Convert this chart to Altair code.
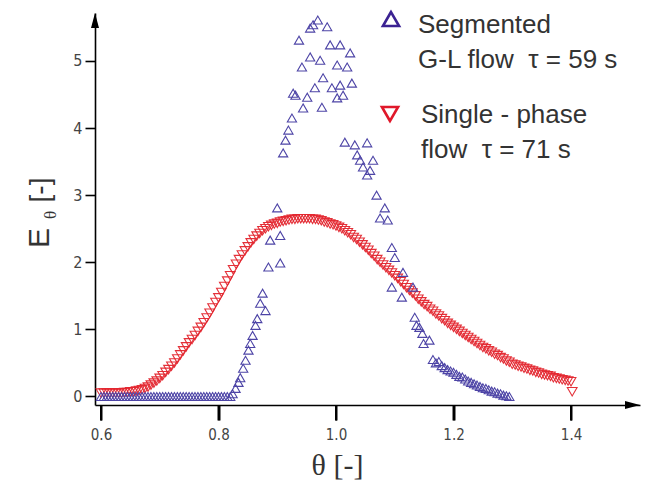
import altair as alt
import pandas as pd

# ---------------- data ----------------
# Single-phase flow (red, triangle-down)
red_theta = [0.600, 0.605, 0.610, 0.615, 0.620, 0.625, 0.630, 0.635, 0.640, 0.645,
             0.650, 0.655, 0.660, 0.665, 0.670, 0.675, 0.680, 0.685, 0.690, 0.695,
             0.700, 0.705, 0.710, 0.715, 0.720, 0.725, 0.730, 0.735, 0.740, 0.745,
             0.750, 0.755, 0.760, 0.765, 0.770, 0.775, 0.780, 0.785, 0.790, 0.795,
             0.800, 0.805, 0.810, 0.815, 0.820, 0.825, 0.830, 0.835, 0.840, 0.845,
             0.850, 0.855, 0.860, 0.865, 0.870, 0.875, 0.880, 0.885, 0.890, 0.895,
             0.900, 0.905, 0.910, 0.915, 0.920, 0.925, 0.930, 0.935, 0.940, 0.945,
             0.950, 0.955, 0.960, 0.965, 0.970, 0.975, 0.980, 0.985, 0.990, 0.995,
             1.000, 1.005, 1.010, 1.015, 1.020, 1.025, 1.030, 1.035, 1.040, 1.045,
             1.050, 1.055, 1.060, 1.065, 1.070, 1.075, 1.080, 1.085, 1.090, 1.095,
             1.100, 1.105, 1.110, 1.115, 1.120, 1.125, 1.130, 1.135, 1.140, 1.145,
             1.150, 1.155, 1.160, 1.165, 1.170, 1.175, 1.180, 1.185, 1.190, 1.195,
             1.200, 1.205, 1.210, 1.215, 1.220, 1.225, 1.230, 1.235, 1.240, 1.245,
             1.250, 1.255, 1.260, 1.265, 1.270, 1.275, 1.280, 1.285, 1.290, 1.295,
             1.300, 1.305, 1.310, 1.315, 1.320, 1.325, 1.330, 1.335, 1.340, 1.345,
             1.350, 1.355, 1.360, 1.365, 1.370, 1.375, 1.380, 1.385, 1.390, 1.395,
             1.400, 1.402]
red_E = [0.05, 0.05, 0.05, 0.05, 0.05, 0.05, 0.05, 0.05, 0.06, 0.06,
         0.07, 0.07, 0.08, 0.09, 0.10, 0.12, 0.14, 0.17, 0.20, 0.23,
         0.27, 0.31, 0.36, 0.40, 0.45, 0.50, 0.56, 0.62, 0.68, 0.74,
         0.80, 0.85, 0.91, 0.97, 1.03, 1.10, 1.17, 1.24, 1.32, 1.40,
         1.47, 1.55, 1.64, 1.72, 1.80, 1.89, 1.97, 2.04, 2.11, 2.17,
         2.23, 2.29, 2.34, 2.39, 2.43, 2.47, 2.50, 2.53, 2.55, 2.57,
         2.58, 2.60, 2.61, 2.62, 2.63, 2.64, 2.64, 2.65, 2.65, 2.65,
         2.65, 2.65, 2.64, 2.64, 2.63, 2.62, 2.60, 2.59, 2.57, 2.56,
         2.54, 2.52, 2.50, 2.47, 2.44, 2.41, 2.37, 2.34, 2.30, 2.26,
         2.22, 2.18, 2.13, 2.09, 2.04, 2.00, 1.96, 1.92, 1.88, 1.84,
         1.80, 1.76, 1.71, 1.67, 1.62, 1.58, 1.54, 1.50, 1.45, 1.41,
         1.37, 1.34, 1.30, 1.27, 1.23, 1.20, 1.16, 1.13, 1.09, 1.06,
         1.03, 1.00, 0.97, 0.94, 0.91, 0.88, 0.85, 0.82, 0.79, 0.76,
         0.73, 0.71, 0.68, 0.66, 0.63, 0.61, 0.58, 0.56, 0.53, 0.51,
         0.48, 0.47, 0.45, 0.44, 0.42, 0.41, 0.39, 0.38, 0.36, 0.35,
         0.33, 0.32, 0.31, 0.30, 0.28, 0.27, 0.26, 0.25, 0.24, 0.23,
         0.22, 0.07]

# Segmented gas-liquid flow (blue, triangle-up)
blue_theta = [0.600, 0.605, 0.610, 0.615, 0.620, 0.625, 0.630, 0.635, 0.640, 0.645,
              0.650, 0.655, 0.660, 0.665, 0.670, 0.675, 0.680, 0.685, 0.690, 0.695,
              0.700, 0.705, 0.710, 0.715, 0.720, 0.725, 0.730, 0.735, 0.740, 0.745,
              0.750, 0.755, 0.760, 0.765, 0.770, 0.775, 0.780, 0.785, 0.790, 0.795,
              0.800, 0.805, 0.810, 0.815, 0.820,
              0.824, 0.829, 0.834, 0.837, 0.842, 0.846, 0.851, 0.854, 0.858, 0.863,
              0.866, 0.871, 0.875, 0.880, 0.885, 0.905, 0.888, 0.905, 0.900,
              0.910, 0.914, 0.919, 0.925, 0.927, 0.931, 0.937, 0.942, 0.944, 0.951,
              0.956, 0.956, 0.961, 0.969, 0.973, 0.964, 0.976, 0.978, 0.985, 0.990,
              0.993, 1.002, 1.002, 1.007, 1.007, 1.012, 1.019, 1.024, 1.027,
              1.015, 1.032, 1.053, 1.036, 1.041, 1.063, 1.046, 1.058, 1.053, 1.069,
              1.083, 1.075, 1.088, 1.095, 1.100, 1.114, 1.095, 1.112, 1.131, 1.134,
              1.137, 1.147, 1.159, 1.142, 1.149,
              1.165, 1.170, 1.175, 1.180, 1.185, 1.190, 1.195, 1.200, 1.205, 1.210,
              1.215, 1.220, 1.225, 1.230, 1.235, 1.240, 1.245, 1.250, 1.255, 1.260,
              1.265, 1.270, 1.275, 1.280, 1.285, 1.290, 1.295]
blue_E = [0.00, 0.00, 0.00, 0.00, 0.00, 0.00, 0.00, 0.00, 0.00, 0.00,
          0.00, 0.00, 0.00, 0.00, 0.00, 0.00, 0.00, 0.00, 0.00, 0.00,
          0.00, 0.00, 0.00, 0.00, 0.00, 0.00, 0.00, 0.00, 0.00, 0.00,
          0.00, 0.00, 0.00, 0.00, 0.00, 0.00, 0.00, 0.00, 0.00, 0.00,
          0.00, 0.00, 0.00, 0.00, 0.00,
          0.04, 0.12, 0.21, 0.28, 0.42, 0.54, 0.69, 0.79, 0.91, 1.06,
          1.16, 1.39, 1.54, 1.28, 1.93, 1.99, 2.33, 2.40, 2.81,
          3.63, 3.82, 3.97, 4.15, 4.52, 4.49, 5.31, 4.91, 4.30, 4.46,
          5.06, 5.49, 5.54, 5.61, 5.01, 4.60, 4.31, 4.75, 5.51, 5.24,
          4.60, 4.94, 4.45, 5.24, 4.64, 4.49, 4.91, 5.12, 4.67,
          3.79, 3.75, 3.78, 3.60, 3.52, 3.52, 3.42, 3.37, 3.30, 3.00,
          2.81, 2.66, 2.63, 2.22, 2.07, 1.85, 1.63, 1.48, 1.63, 1.18,
          1.06, 0.94, 0.84, 1.03, 0.79,
          0.55, 0.50, 0.52, 0.46, 0.43, 0.40, 0.38, 0.36, 0.33, 0.30,
          0.29, 0.26, 0.23, 0.21, 0.19, 0.17, 0.15, 0.13, 0.12, 0.10,
          0.08, 0.07, 0.05, 0.04, 0.02, 0.01, 0.00]

x_ticks = [0.6, 0.8, 1.0, 1.2, 1.4]
y_ticks = [0, 1, 2, 3, 4, 5]

NB = "\u00a0"
legend_blue = ["Segmented", "G-L flow" + NB + NB + "\u03c4 = 59 s"]
legend_red = ["Single - phase", "flow" + NB + NB + "\u03c4 = 71 s"]
x_title = "\u03b8 [-]"

# ---------------- styling ----------------
X_MIN, X_MAX = 0.5898, 1.5174
Y_MIN, Y_MAX = -0.127, 5.715
W, H = 545, 392
BLUE = "#4d44a6"
RED = "#e3262f"
TXT = "#333333"
TICKFONT = "Liberation Sans Narrow, DejaVu Sans Condensed, sans-serif"

xs = alt.Scale(domain=[X_MIN, X_MAX], nice=False, zero=False)
ys = alt.Scale(domain=[Y_MIN, Y_MAX], nice=False, zero=False)

x_axis = alt.Axis(values=x_ticks, format=".1f", grid=False, ticks=True,
                  domainColor="#000000", domainWidth=1.6,
                  tickColor="#000000", tickWidth=2, tickSize=15, tickOpacity=1,
                  labelFont=TICKFONT, labelFontSize=15, labelColor="#444",
                  labelPadding=7, title=x_title, titleFont="Liberation Serif",
                  titleFontSize=30, titleFontWeight="normal", titleColor=TXT,
                  titleX=242, titleY=60, titleBaseline="middle", titleAlign="center")
y_axis = alt.Axis(values=y_ticks, format="d", grid=False, ticks=True,
                  domainColor="#000000", domainWidth=1.6,
                  tickColor="#000000", tickWidth=1.6, tickSize=10, tickOpacity=1,
                  labelFont=TICKFONT, labelFontSize=16, labelColor="#444",
                  labelPadding=3, title=None)

X = alt.X("theta:Q", scale=xs, axis=x_axis)
Y = alt.Y("E:Q", scale=ys, axis=y_axis)

red_df = pd.DataFrame({"theta": red_theta, "E": red_E})
blue_df = pd.DataFrame({"theta": blue_theta, "E": blue_E})

red_layer = alt.Chart(red_df).mark_point(shape="triangle-down", filled=False,
                                         color=RED, size=95, strokeWidth=1.1,
                                         opacity=0.95).encode(x=X, y=Y)

blue_layer = alt.Chart(blue_df).mark_point(shape="triangle-up", filled=False,
                                           color=BLUE, size=85, strokeWidth=1.1,
                                           opacity=1).encode(x=X, y=Y)

# extra x tick strokes hanging below the axis line (vertical path symbols)
xtick_layer = alt.Chart(pd.DataFrame({"theta": x_ticks})).mark_point(
    shape="M0,-1L0,1", filled=False, color="#000000", size=225,
    strokeWidth=2, opacity=1).encode(x=X, y=alt.value(H + 8))

arrow_x = alt.Chart(pd.DataFrame({"theta": [X_MAX], "E": [Y_MIN]})).mark_point(
    shape="M0,0L-3,-0.8L-3,0.8Z", filled=True, color="black", size=100,
    opacity=1).encode(x=X, y=Y)
arrow_y = alt.Chart(pd.DataFrame({"theta": [X_MIN], "E": [Y_MAX]})).mark_point(
    shape="M0,0L-0.8,3L0.8,3Z", filled=True, color="black", size=100,
    opacity=1).encode(x=X, y=Y)

OX, OY = 95, 13  # plot origin on the page


def txt(s, ax, ay, size, font="Liberation Sans", angle=0, align="left",
        baseline="alphabetic", color=TXT):
    return alt.Chart(pd.DataFrame({"t": [s]})).mark_text(
        font=font, fontSize=size, color=color, angle=angle, align=align,
        baseline=baseline).encode(text="t:N", x=alt.value(ax - OX), y=alt.value(ay - OY))


def sym(shape, color, ax, ay):
    return alt.Chart(pd.DataFrame({"s": [shape]})).mark_point(
        shape=shape, filled=False, color=color, size=260, strokeWidth=2.6,
        opacity=1).encode(x=alt.value(ax - OX), y=alt.value(ay - OY))


legend_layers = [
    sym("triangle-up", "#3b2292", 391, 19),
    txt(legend_blue[0], 418, 33, 26),
    txt(legend_blue[1], 418, 68, 26),
    sym("triangle-down", "#e0182a", 390, 114),
    txt(legend_red[0], 421, 123, 26),
    txt(legend_red[1], 421, 158, 26),
]

ytitle_layers = [
    txt("E", 49, 238, 30, angle=270, align="center"),
    txt("\u03b8", 56, 215, 17, font="Liberation Serif", angle=270, align="center"),
    txt("[-]", 49, 190, 28, angle=270, align="center"),
]

chart = alt.layer(red_layer, blue_layer, xtick_layer, arrow_x, arrow_y,
                  *legend_layers, *ytitle_layers).properties(
    width=W, height=H,
    padding={"left": OX - 8, "top": OY - 8, "right": 5, "bottom": 80},
    autosize=alt.AutoSizeParams(type="none"),
    background="white",
).configure_view(stroke=None)

chart.save("out.html", embed_options={"renderer": "svg", "actions": False})
